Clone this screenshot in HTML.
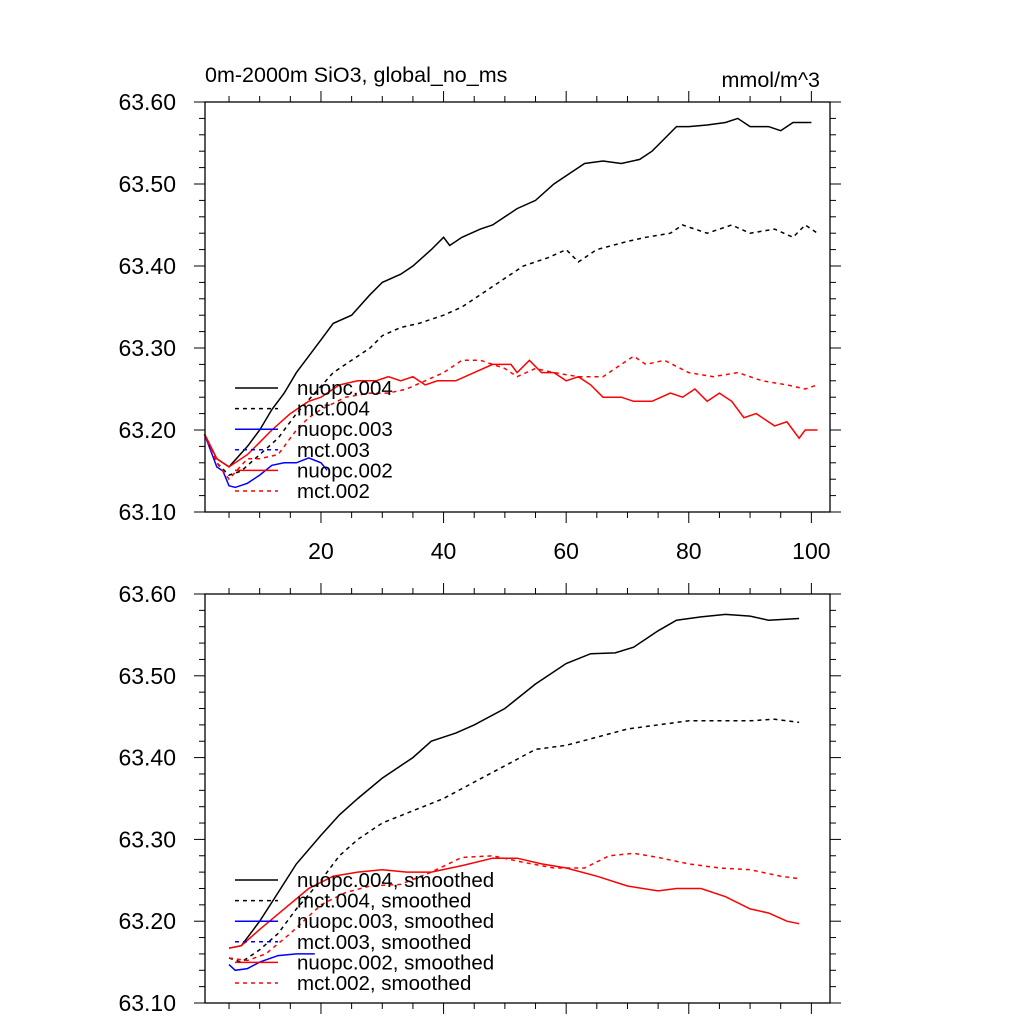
<!DOCTYPE html>
<html><head><meta charset="utf-8"><style>
body{margin:0;background:#fff;}
svg{display:block;font-family:"Liberation Sans",sans-serif;}
</style></head><body>
<svg id="chart" width="1024" height="1024" viewBox="0 0 1024 1024" xmlns="http://www.w3.org/2000/svg">
<text x="205" y="82" font-size="21.5">0m-2000m SiO3, global_no_ms</text>
<text x="820" y="87" font-size="21.5" text-anchor="end">mmol/m^3</text>
</svg>
<script>
// ---- data: top panel (annual) ----
const n004Years=[1,3,5,8,10,12,14,16,18,20,22,25,28,30,33,35,38,40,41,43,46,48,50,52,55,58,60,63,66,69,72,74,76,78,80,83,86,88,90,93,95,97,100];
const n004Vals=[63.195,63.165,63.155,63.18,63.20,63.225,63.245,63.27,63.29,63.31,63.33,63.34,63.365,63.38,63.39,63.40,63.42,63.435,63.425,63.435,63.445,63.45,63.46,63.47,63.48,63.50,63.51,63.525,63.528,63.525,63.53,63.54,63.555,63.57,63.57,63.572,63.575,63.58,63.57,63.57,63.565,63.575,63.575];
const m004Years=[1,3,5,7,10,13,16,19,22,25,28,30,33,36,40,43,46,50,53,57,60,62,65,70,73,77,79,83,87,90,94,97,99,101];
const m004Vals=[63.195,63.16,63.145,63.15,63.17,63.19,63.22,63.245,63.27,63.285,63.30,63.315,63.325,63.33,63.34,63.35,63.365,63.385,63.40,63.41,63.42,63.405,63.42,63.43,63.435,63.44,63.45,63.44,63.45,63.44,63.445,63.435,63.45,63.44];
const n003Years=[1,3,4,5,6,8,10,12,14,16,18,20,21];
const n003Vals=[63.195,63.155,63.15,63.132,63.13,63.135,63.145,63.157,63.16,63.16,63.166,63.16,63.151];
const n002Years=[1,3,5,8,10,12,15,18,20,23,26,29,31,33,35,37,39,42,45,48,51,52,54,56,58,60,62,64,66,69,71,74,77,79,81,83,85,87,89,91,94,96,98,99,101];
const n002Vals=[63.195,63.165,63.155,63.17,63.185,63.20,63.22,63.235,63.24,63.255,63.26,63.26,63.265,63.26,63.265,63.255,63.26,63.26,63.27,63.28,63.28,63.27,63.285,63.27,63.27,63.26,63.265,63.255,63.24,63.24,63.235,63.235,63.245,63.24,63.25,63.235,63.245,63.235,63.215,63.22,63.205,63.21,63.19,63.20,63.20];
const m002Years=[1,3,5,8,10,13,16,18,20,24,28,31,34,37,40,43,46,48,50,52,55,58,62,66,69,71,73,76,80,84,88,92,96,99,101];
const m002Vals=[63.195,63.16,63.14,63.165,63.165,63.17,63.20,63.215,63.225,63.24,63.245,63.245,63.25,63.26,63.27,63.285,63.285,63.28,63.275,63.265,63.275,63.27,63.265,63.265,63.28,63.29,63.28,63.285,63.27,63.265,63.27,63.26,63.255,63.25,63.255];
// ---- data: bottom panel (smoothed) ----
const sn004Years=[5,7,10,13,16,20,23,26,30,35,38,42,45,50,55,60,64,68,71,75,78,82,86,90,93,98];
const sn004Vals=[63.167,63.17,63.20,63.235,63.27,63.305,63.33,63.35,63.375,63.40,63.42,63.43,63.44,63.46,63.49,63.515,63.527,63.528,63.535,63.555,63.568,63.572,63.575,63.573,63.568,63.57];
const sm004Years=[5,7,10,13,16,20,23,26,30,35,40,45,50,55,60,65,70,75,80,85,90,94,98];
const sm004Vals=[63.155,63.15,63.165,63.185,63.215,63.25,63.28,63.30,63.32,63.335,63.35,63.37,63.39,63.41,63.415,63.425,63.435,63.44,63.445,63.445,63.445,63.447,63.443];
const sn003Years=[5,6,8,10,13,16,19];
const sn003Vals=[63.147,63.14,63.142,63.15,63.158,63.16,63.16];
const sn002Years=[5,7,10,14,18,22,26,30,34,38,43,48,52,56,60,65,70,75,78,82,86,90,93,96,98];
const sn002Vals=[63.167,63.17,63.19,63.215,63.24,63.255,63.26,63.263,63.26,63.26,63.268,63.277,63.277,63.27,63.265,63.255,63.243,63.237,63.24,63.24,63.23,63.215,63.21,63.20,63.197];
const sm002Years=[5,8,11,15,20,24,28,33,38,43,48,53,58,63,67,71,75,80,85,90,95,98];
const sm002Vals=[63.155,63.152,63.16,63.185,63.22,63.235,63.243,63.245,63.26,63.278,63.28,63.272,63.265,63.265,63.28,63.283,63.278,63.27,63.265,63.263,63.255,63.252];
const yTickLabels=["63.10","63.20","63.30","63.40","63.50","63.60"];
const xTickLabels=["20","40","60","80","100"];
const topLegend=["nuopc.004","mct.004","nuopc.003","mct.003","nuopc.002","mct.002"];
const botLegend=["nuopc.004, smoothed","mct.004, smoothed","nuopc.003, smoothed","mct.003, smoothed","nuopc.002, smoothed","mct.002, smoothed"];

const svg=document.getElementById('chart');
const NS='http://www.w3.org/2000/svg';
const L=205,R=830;
const xs=yr=>204.5+(yr-1)*6.13;
const styles=[["#000",""],["#000","4,4"],["#0000ff",""],["#0000ff","4,4"],["#ff0000",""],["#ff0000","4,4"]];
function mk(tag,attrs,parent){const e=document.createElementNS(NS,tag);for(const k in attrs)e.setAttribute(k,attrs[k]);(parent||svg).appendChild(e);return e;}

function panel(top,bot,name,series,legend,showX){
  const g=mk('g',{});
  
  
  const ys=v=>bot-(v-63.10)/0.5*(bot-top);
  series.forEach((s,i)=>{
    if(!s) return;
    const pts=s[0].map((yr,j)=>xs(yr).toFixed(1)+','+ys(s[1][j]).toFixed(1)).join(' ');
    const p=mk('polyline',{points:pts,fill:'none',stroke:styles[i][0],'stroke-width':1.5,'stroke-dasharray':styles[i][1]},g);
    
    
  });
  const f=mk('rect',{x:L,y:top,width:R-L,height:bot-top,fill:'none',stroke:'#000','stroke-width':1.3},g);
  
  
  for(let k=0;k<=25;k++){
    const v=63.10+k*0.02,y=ys(v),len=(k%5==0)?11:6;
    mk('line',{x1:L-len,y1:y,x2:L,y2:y,stroke:'#000','stroke-width':1},g);
    mk('line',{x1:R,y1:y,x2:R+len,y2:y,stroke:'#000','stroke-width':1},g);
  }
  yTickLabels.forEach((t,k)=>{
    const tx=mk('text',{x:176,y:ys(63.10+k*0.1)+8,'font-size':23,'text-anchor':'end'},g);
    tx.textContent=t;
    
    
  });
  for(let yr=5;yr<=100;yr+=5){
    const x=xs(yr),len=(yr%20==0)?11:6;
    mk('line',{x1:x,y1:bot,x2:x,y2:bot+len,stroke:'#000','stroke-width':1},g);
    mk('line',{x1:x,y1:top-len,x2:x,y2:top,stroke:'#000','stroke-width':1},g);
  }
  if(showX) xTickLabels.forEach((t,k)=>{
    const tx=mk('text',{x:xs(20*(k+1)),y:bot+47,'font-size':23,'text-anchor':'middle'},g);
    tx.textContent=t;
    
    
  });
  const lg=mk('g',{},g);
  
  
  const ly0=top+286;
  legend.forEach((t,i)=>{
    const y=ly0+i*20.6;
    mk('line',{x1:235,y1:y,x2:278,y2:y,stroke:styles[i][0],'stroke-width':1.5,'stroke-dasharray':styles[i][1]},lg);
    const tx=mk('text',{x:297,y:y+7,'font-size':20.5},lg);
    tx.textContent=t;
    
    
  });
}
panel(102,512,'top-panel',[[n004Years,n004Vals],[m004Years,m004Vals],[n003Years,n003Vals],null,[n002Years,n002Vals],[m002Years,m002Vals]],topLegend,true);
panel(594,1003,'bottom-panel',[[sn004Years,sn004Vals],[sm004Years,sm004Vals],[sn003Years,sn003Vals],null,[sn002Years,sn002Vals],[sm002Years,sm002Vals]],botLegend,false);
</script>
</body></html>
